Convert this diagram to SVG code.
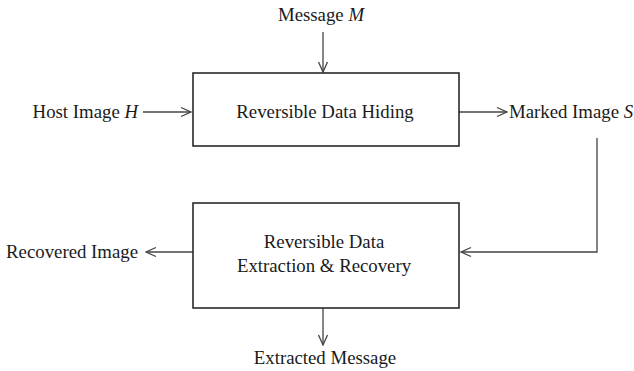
<svg xmlns="http://www.w3.org/2000/svg" width="634" height="371" viewBox="0 0 634 371">
<style>
text{font-family:"Liberation Serif","Times New Roman",serif;font-size:18.8px;fill:#1a1a1a}
.box{fill:#fff;stroke:#2a2a2a;stroke-width:1.6}
.c{fill:none;stroke:#444;stroke-width:1.3}
.i{font-style:italic}
</style>
<defs>
<marker id="ah" viewBox="0 0 12 12" refX="11" refY="6" markerWidth="12" markerHeight="12" markerUnits="userSpaceOnUse" orient="auto">
<path d="M1,1.5 L11,6 L1,10.5" fill="none" stroke="#444" stroke-width="1.3"/>
</marker>
</defs>
<rect width="634" height="371" fill="#fff"/>
<g id="connectors">
<path class="c" d="M323,32 V72" marker-end="url(#ah)"/>
<path class="c" d="M143,112 H191" marker-end="url(#ah)"/>
<path class="c" d="M459,112 H507" marker-end="url(#ah)"/>
<path class="c" d="M597,138 V252 H461" marker-end="url(#ah)"/>
<path class="c" d="M193,252 H146" marker-end="url(#ah)"/>
<path class="c" d="M323,308 V345" marker-end="url(#ah)"/>
</g>
<g id="message"><text x="321" y="21" text-anchor="middle">Message <tspan class="i">M</tspan></text></g>
<g id="host"><text x="138" y="118" text-anchor="end">Host Image <tspan class="i">H</tspan></text></g>
<g id="hiding"><rect class="box" x="193" y="73" width="266" height="73"/><text x="325" y="118" text-anchor="middle">Reversible Data Hiding</text></g>
<g id="marked"><text x="509" y="118">Marked Image <tspan class="i">S</tspan></text></g>
<g id="extraction"><rect class="box" x="193" y="203" width="266" height="105"/><text x="324" y="248" text-anchor="middle">Reversible Data</text><text x="324" y="272" text-anchor="middle">Extraction &amp; Recovery</text></g>
<g id="recovered"><text x="138" y="258" text-anchor="end">Recovered Image</text></g>
<g id="extracted"><text x="325" y="364" text-anchor="middle">Extracted Message</text></g>
</svg>
